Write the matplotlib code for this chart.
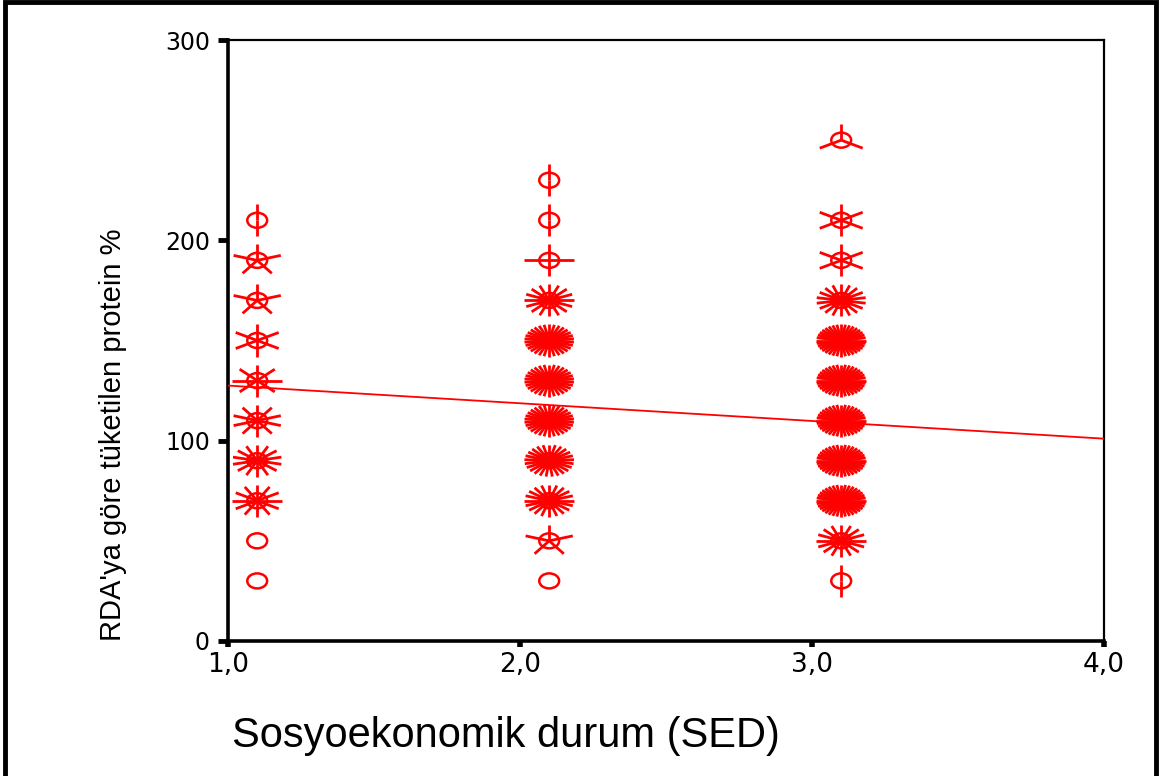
import numpy as np
import matplotlib.pyplot as plt
from matplotlib.patches import Ellipse, Rectangle

plt.rcParams['font.family'] = ['Liberation Sans', 'DejaVu Sans']

# sunflower cells: x group, y bin, count of cases
x_col1 = [1.1] * 10
y_col1 = [210, 190, 170, 150, 130, 110, 90, 70, 50, 30]
n_col1 = [2, 5, 5, 6, 8, 10, 14, 12, 1, 1]

x_col2 = [2.1] * 11
y_col2 = [230, 210, 190, 170, 150, 130, 110, 90, 70, 50, 30]
n_col2 = [2, 2, 4, 16, 30, 30, 30, 25, 20, 5, 1]

x_col3 = [3.1] * 11
y_col3 = [250, 210, 190, 170, 150, 130, 110, 90, 70, 50, 30]
n_col3 = [3, 6, 6, 18, 36, 36, 36, 36, 36, 16, 2]

fit_x = [1.0, 4.0]
fit_y = [127.5, 101.0]

xticks = [1.0, 2.0, 3.0, 4.0]
xtick_labels = ['1,0', '2,0', '3,0', '4,0']
yticks = [0, 100, 200, 300]

xs = x_col1 + x_col2 + x_col3
ys = y_col1 + y_col2 + y_col3
ns = n_col1 + n_col2 + n_col3

fig = plt.figure(figsize=(11.61, 7.76), dpi=100)
ax = fig.add_axes([228 / 1161, 1 - 641 / 776, 876 / 1161, 601 / 776])
ax.set_xlim(1, 4)
ax.set_ylim(0, 300)

red = '#ff0000'
rx, ry = 0.085, 8.0       # petal length in data units
cw, ch = 0.068, 7.5       # centre ellipse size
for x, y, n in zip(xs, ys, ns):
    ax.add_patch(Ellipse((x, y), cw, ch, fill=False, ec=red, lw=1.8, zorder=3))
    if n < 2:
        continue
    ang = np.pi / 2 + 2 * np.pi * np.arange(n) / n
    for a in ang:
        ax.plot([x, x + rx * np.cos(a)], [y, y + ry * np.sin(a)],
                color=red, lw=2.0, solid_capstyle='butt', zorder=3)

ax.plot(fit_x, fit_y, color=red, lw=1.3, zorder=4)

for s in ['top', 'right']:
    ax.spines[s].set_linewidth(1.6)
for s in ['left', 'bottom']:
    ax.spines[s].set_linewidth(2.6)

ax.set_xticks(xticks)
ax.set_xticklabels(xtick_labels, family='DejaVu Sans')
ax.set_yticks(yticks)
ax.set_yticklabels([str(v) for v in yticks], family='DejaVu Sans')
ax.tick_params(axis='y', direction='out', length=7, width=3.5, labelsize=17, pad=6)
ax.tick_params(axis='x', direction='out', length=4, width=4, labelsize=19, pad=4)

ax.set_xlabel('Sosyoekonomik durum (SED)', fontsize=30)
ax.xaxis.set_label_coords(0.005, -0.125)
ax.xaxis.label.set_horizontalalignment('left')
ax.set_ylabel("RDA'ya göre tüketilen protein %", fontsize=21)
ax.yaxis.set_label_coords(-0.115, 0.343)

fig.patches.append(Rectangle((0.004, -0.01), 0.992, 1.008, transform=fig.transFigure,
                             fill=False, ec='black', lw=3.5))

fig.savefig('out.png', dpi=100)
